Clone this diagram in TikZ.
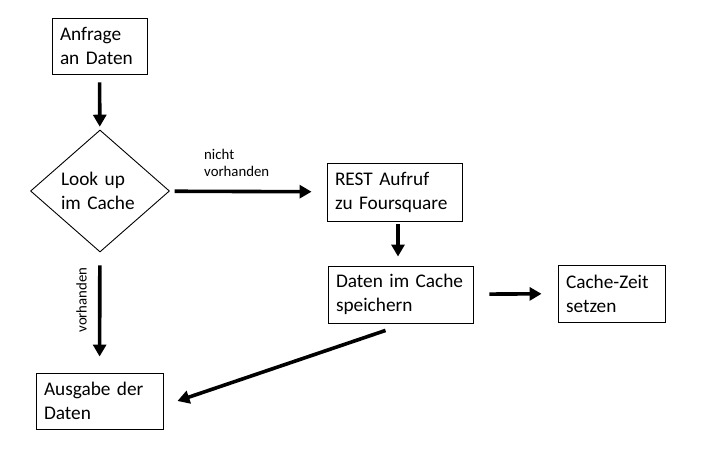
\documentclass[tikz,border=0pt]{standalone}
\usepackage{fontspec}
\setmainfont{Carlito}
\usetikzlibrary{shapes.geometric,arrows.meta,positioning}

\begin{document}
\begin{tikzpicture}[x=1pt,y=-1pt,
    kasten/.style={draw,line width=0.9pt,align=left,inner xsep=8pt,inner ysep=0pt,font=\fontsize{19.3}{24}\selectfont},
    raute/.style={draw,line width=0.9pt,shape=diamond,aspect=1.14,inner sep=0pt,align=left,font=\fontsize{19.3}{24}\selectfont},
    pfeil/.style={line width=3.6pt,-{Triangle[length=12pt,width=13pt]}},
    klein/.style={inner sep=0pt,align=left,font=\fontsize{14.8}{17.7}\selectfont}]
              \useasboundingbox (0,0) rectangle (714,452);
              % Kaesten
              \node[kasten,text width=79pt,minimum height=56pt](anfrage)at(99.5,46){Anfrage\\an Daten};
              \node[raute,text width=78pt,minimum width=139pt,minimum height=122pt](lookup)at(100,191){Look up\\im Cache};
              \node[kasten,text width=119pt,minimum height=58pt](rest)at(394.5,192){REST Aufruf\\zu Foursquare};
              \node[kasten,text width=129pt,minimum height=57pt](daten)at(400.5,294.5){Daten im Cache\\speichern};
              \node[kasten,text width=91pt,minimum height=57pt](cachezeit)at(611.5,293.5){Cache-Zeit\\setzen};
              \node[kasten,text width=111pt,minimum height=56pt](ausgabe)at(99.5,401){Ausgabe der\\Daten};
              % Beschriftungen
              \node[klein,anchor=west](lblnicht)at(204,163){nicht\\vorhanden};
              \node[klein,rotate=90](lblvorh)at(81.5,300){vorhanden};
              % Pfeile
              \draw[pfeil,shorten <=8pt,shorten >=3pt](anfrage)--(lookup);
              \draw[pfeil,shorten <=5pt,shorten >=15pt](lookup)--(rest);
              \draw[pfeil,shorten <=3pt,shorten >=9pt]([xshift=3.5pt]rest.south)--([xshift=3.5pt]rest.south|-daten.north);
              \draw[pfeil,shorten <=16pt,shorten >=16pt](daten)--(cachezeit);
              \draw[pfeil,shorten <=13pt,shorten >=16pt](lookup)--(ausgabe);
              \draw[pfeil]([xshift=-15pt,yshift=-7pt]daten.south)--([xshift=14pt]ausgabe.east);
\end{tikzpicture}
\end{document}
